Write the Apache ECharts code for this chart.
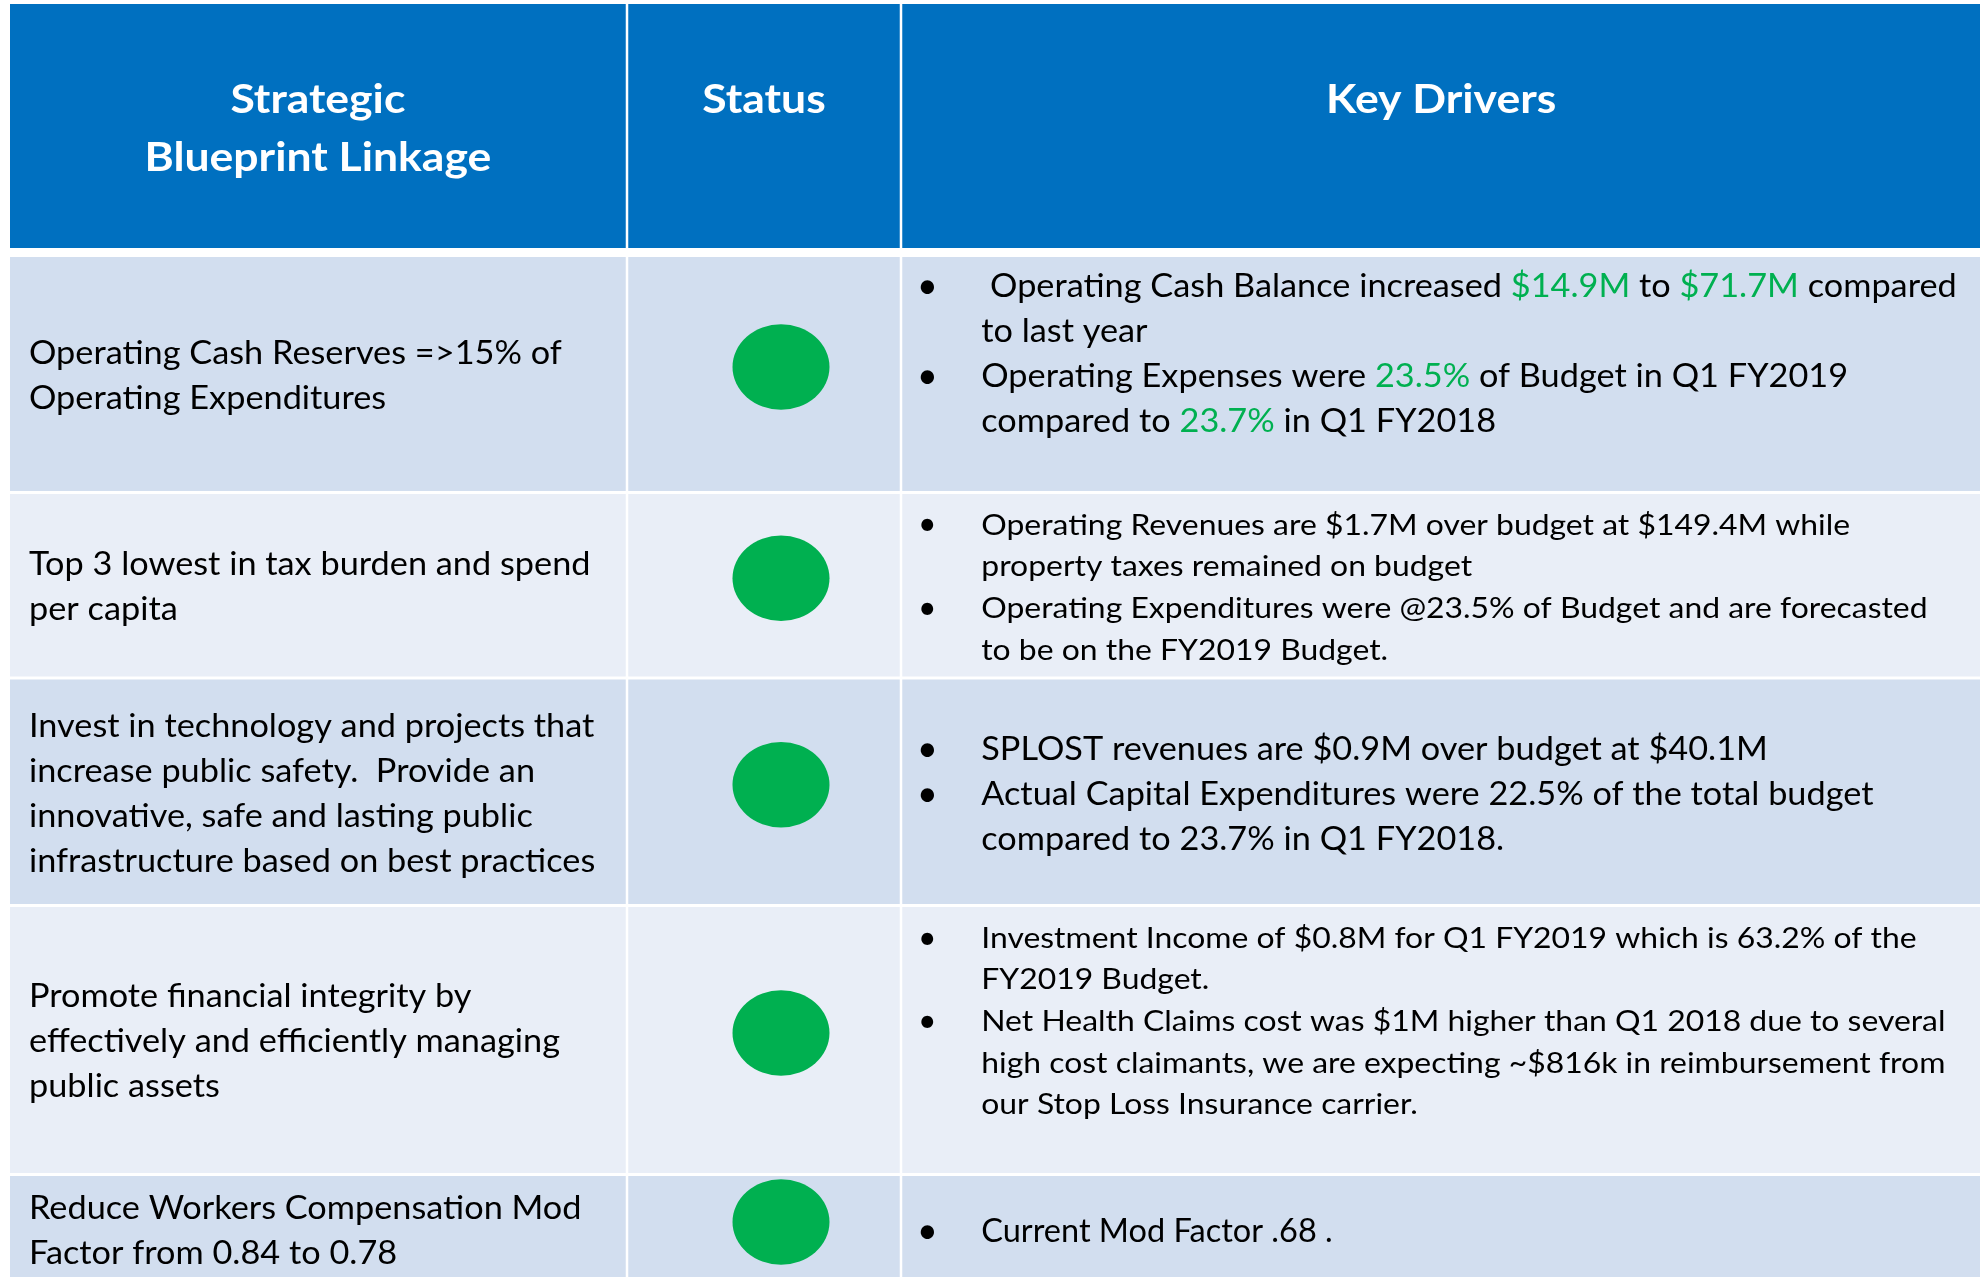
<!DOCTYPE html>
<html>
<head>
<meta charset="utf-8">
<style>
html, body { margin: 0; padding: 0; background: #fff; }
#main { width: 1980px; height: 1277px; }
</style>
<script src="https://cdn.jsdelivr.net/npm/echarts@6/dist/echarts.min.js"></script>
</head>
<body>
<div id="main"></div>
<script>
// table content
var headers = ['Strategic\nBlueprint Linkage', 'Status', 'Key Drivers'];

var linkage = [
    ['Operating Cash Reserves =>15% of', 'Operating Expenditures'],
    ['Top 3 lowest in tax burden and spend', 'per capita'],
    ['Invest in technology and projects that', 'increase public safety.  Provide an', 'innovative, safe and lasting public', 'infrastructure based on best practices'],
    ['Promote financial integrity by', 'effectively and efficiently managing', 'public assets'],
    ['Reduce Workers Compensation Mod', 'Factor from 0.84 to 0.78']
];

var statusList = ['green', 'green', 'green', 'green', 'green'];

// {g|...} = figures shown in green
var drivers = [
    [[' Operating Cash Balance increased {g|$14.9M} to {g|$71.7M} compared', 'to last year'],
     ['Operating Expenses were {g|23.5%} of Budget in Q1 FY2019', 'compared to {g|23.7%} in Q1 FY2018'],
     ['']],
    [['Operating Revenues are $1.7M over budget at $149.4M while', 'property taxes remained on budget'],
     ['Operating Expenditures were @23.5% of Budget and are forecasted', 'to be on the FY2019 Budget.']],
    [['SPLOST revenues are $0.9M over budget at $40.1M'],
     ['Actual Capital Expenditures were 22.5% of the total budget', 'compared to 23.7% in Q1 FY2018.']],
    [['Investment Income of $0.8M for Q1 FY2019 which is 63.2% of the', 'FY2019 Budget.'],
     ['Net Health Claims cost was $1M higher than Q1 2018 due to several', 'high cost claimants, we are expecting ~$816k in reimbursement from', 'our Stop Loss Insurance carrier.'],
     ['']],
    [['Current Mod Factor .68 .']]
];

// layout
var colWidths = [617, 274, 1079];
var rowHeights = [248.5, 240, 185.5, 227.5, 269, 107.5];
var colGap = 2.5, rowGap = 3, headerGap = 9;
var driverFont = [32.5, 29, 32.5, 29, 32.5];
var driverStretch = [1.055, 1.10, 1.055, 1.10, 1.0];
var driverPitch = [45, 41.7, 45, 41.7, 45];
var FONT = 'Lato';
var statusColor = { green: '#00B050' };

var xEdge = [0], yEdge = [0];
colWidths.forEach(function (w, i) { xEdge.push(xEdge[i] + w); });
rowHeights.forEach(function (h, i) { yEdge.push(yEdge[i] + h); });
var lastRow = rowHeights.length - 1;

var cells = [];
for (var r = 0; r < rowHeights.length; r++)
    for (var c = 0; c < colWidths.length; c++)
        cells.push([c, r]);

function lineText(x, y, txt, size, opts) {
    opts = opts || {};
    return {
        type: 'text',
        x: x,
        y: y,
        scaleX: opts.stretch || 1,
        style: {
            text: txt,
            fill: opts.fill || '#000',
            fontSize: size,
            fontFamily: FONT,
            fontWeight: opts.weight || 'normal',
            align: opts.align || 'left',
            verticalAlign: 'middle',
            rich: {
                g: { fill: '#00B050', fontSize: size, fontFamily: FONT }
            }
        }
    };
}

function renderCell(params, api) {
    var c = api.value(0), r = api.value(1);
    var tl = api.coord([xEdge[c], yEdge[r]]);
    var br = api.coord([xEdge[c + 1], yEdge[r + 1]]);
    var x0 = tl[0] + (c > 0 ? colGap / 2 : 0);
    var x1 = br[0] - (c < colWidths.length - 1 ? colGap / 2 : 0);
    var y0 = tl[1] + (r === 1 ? headerGap / 2 : (r > 1 ? rowGap / 2 : 0));
    var y1 = br[1] - (r === 0 ? headerGap / 2 : (r < lastRow ? rowGap / 2 : 0));
    var fill = r === 0 ? '#0070C0' : (r % 2 === 1 ? '#D2DEEF' : '#E9EEF7');
    var cx = (x0 + x1) / 2, cy = (y0 + y1) / 2;
    var kids = [{ type: 'rect', shape: { x: x0, y: y0, width: x1 - x0, height: y1 - y0 }, style: { fill: fill } }];

    if (r === 0) {
        headers[c].split('\n').forEach(function (t, i) {
            kids.push(lineText(cx, y0 + 96 + i * 58, t, 41, { fill: '#fff', weight: 'bold', align: 'center', stretch: 1.085 }));
        });
    } else if (c === 0) {
        var lines = linkage[r - 1];
        var top = cy + 2 - (lines.length - 1) / 2 * 45;
        lines.forEach(function (t, i) {
            kids.push(lineText(x0 + 19, top + i * 45, t, 32.5, { stretch: 1.055 }));
        });
    } else if (c === 1) {
        kids.push({
            type: 'circle',
            x: cx + 17,
            y: cy - 7,
            scaleY: 0.88,
            shape: { cx: 0, cy: 0, r: 48.5 },
            style: { fill: statusColor[statusList[r - 1]] }
        });
    } else {
        var items = drivers[r - 1];
        var size = driverFont[r - 1], pitch = driverPitch[r - 1], st = driverStretch[r - 1];
        var n = 0;
        items.forEach(function (it) { n += it.length; });
        var y = cy + 2.5 - (n - 1) / 2 * pitch;
        items.forEach(function (it) {
            if (it[0] !== '') kids.push(lineText(x0 + 25, y, '\u2022', size * 1.1, { align: 'center' }));
            it.forEach(function (t) {
                if (t !== '') kids.push(lineText(x0 + 79, y, t, size, { stretch: st }));
                y += pitch;
            });
        });
    }
    return { type: 'group', children: kids };
}

var chart = echarts.init(document.getElementById('main'));
chart.setOption({
    animation: false,
    grid: { left: 10, right: 0, top: 4, bottom: 0 },
    xAxis: { type: 'value', min: 0, max: 1970, show: false },
    yAxis: { type: 'value', min: 0, max: 1273, inverse: true, show: false },
    series: [{
        type: 'custom',
        coordinateSystem: 'cartesian2d',
        renderItem: renderCell,
        data: cells
    }]
});
</script>
</body>
</html>
